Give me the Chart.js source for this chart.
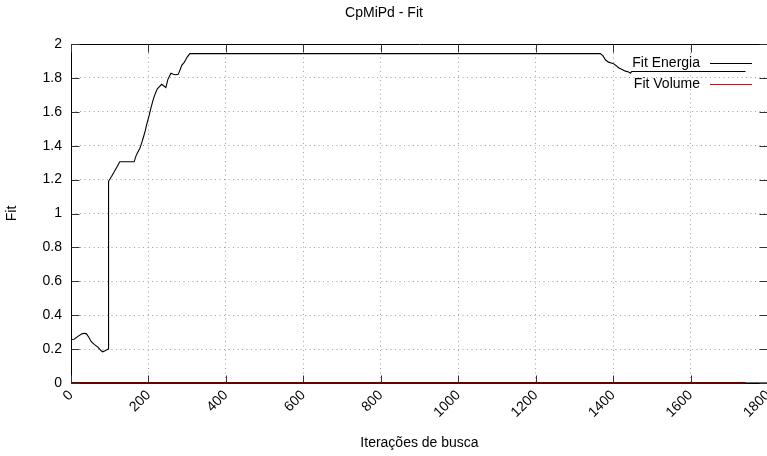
<!DOCTYPE html>
<html><head><meta charset="utf-8">
<script src="https://cdn.jsdelivr.net/npm/chart.js@4.4.0/dist/chart.umd.min.js"></script>
<style>html,body{margin:0;padding:0;overflow:hidden;background:#fff}canvas{display:block}</style>
</head><body>
<canvas id="c" width="830" height="456" style="width:830px;height:456px"></canvas>
<script>
const iterations = [0, 8, 18, 28, 34, 40, 46, 52, 60, 70, 78, 82, 88, 96, 97, 105, 115, 126, 163, 168, 172, 178, 183, 187, 192, 196, 202, 207, 213, 218, 223, 229, 234, 240, 245, 250, 258, 264, 269, 277, 282, 286, 292, 296, 300, 307, 1367, 1374, 1380, 1388, 1395, 1401, 1408, 1414, 1423, 1432, 1440, 1445, 1448, 1742];
const fitEnergia = [0.257, 0.258, 0.275, 0.29, 0.293, 0.29, 0.27, 0.245, 0.228, 0.21, 0.19, 0.184, 0.19, 0.2, 1.19, 1.22, 1.26, 1.305, 1.305, 1.34, 1.36, 1.385, 1.42, 1.45, 1.49, 1.53, 1.58, 1.628, 1.678, 1.71, 1.736, 1.75, 1.762, 1.752, 1.743, 1.79, 1.828, 1.822, 1.819, 1.821, 1.85, 1.874, 1.89, 1.905, 1.923, 1.943, 1.943, 1.93, 1.907, 1.893, 1.888, 1.884, 1.872, 1.86, 1.85, 1.84, 1.835, 1.828, 1.838, 1.838];
const volumeIterations = [0, 1742];
const fitVolume = [0, 0];
const xTicks = [0, 200, 400, 600, 800, 1000, 1200, 1400, 1600, 1800];
const yTicks = [0, 0.2, 0.4, 0.6, 0.8, 1, 1.2, 1.4, 1.6, 1.8, 2];

const FONT = '"Liberation Sans", Arial, Helvetica, sans-serif';
Chart.defaults.font.family = FONT;
Chart.defaults.font.size = 14;
Chart.defaults.color = '#000';

const framePlugin = {
  id: 'frame',
  beforeDatasetsDraw(chart) {
    const {ctx, chartArea: a} = chart;
    ctx.save();
    ctx.strokeStyle = '#000';
    ctx.lineWidth = 1;
    const L = Math.round(a.left) + 0.5, R = Math.round(a.right) - 0.5;
    const T = Math.round(a.top) + 0.5, B = Math.round(a.bottom) + 0.5;
    ctx.beginPath();
    ctx.rect(L, T, R - L, B - T);
    ctx.stroke();
    ctx.restore();
  },
  afterDatasetsDraw(chart) {
    const {ctx, chartArea: a, scales: {x, y}} = chart;
    ctx.save();
    const L = Math.round(a.left) + 0.5, R = Math.round(a.right) - 0.5;
    const T = Math.round(a.top) + 0.5, B = Math.round(a.bottom) + 0.5;
    // border in front of the plotted lines
    ctx.strokeStyle = 'rgba(0,0,0,0.6)';
    ctx.lineWidth = 2;
    ctx.beginPath();
    ctx.moveTo(L - 0.5, Math.round(a.bottom));
    ctx.lineTo(R + 0.5, Math.round(a.bottom));
    ctx.stroke();
    const tl = 8;
    ctx.strokeStyle = '#333';
    ctx.lineWidth = 1;
    ctx.beginPath();
    x.ticks.forEach(t => {
      const px = Math.round(x.getPixelForValue(t.value)) + 0.5;
      ctx.moveTo(px, B - 1); ctx.lineTo(px, B - tl);
      ctx.moveTo(px, T); ctx.lineTo(px, T + tl);
    });
    y.ticks.forEach(t => {
      const py = Math.round(y.getPixelForValue(t.value)) + 0.5;
      ctx.moveTo(L, py); ctx.lineTo(L + tl, py);
      ctx.moveTo(R, py); ctx.lineTo(R - tl, py);
    });
    ctx.stroke();
    ctx.restore();
  },
  afterDraw(chart) {
    const {ctx, chartArea: a} = chart;
    ctx.save();
    ctx.font = '14px ' + FONT;
    ctx.textAlign = 'right';
    ctx.textBaseline = 'middle';
    chart.data.datasets.forEach((ds, i) => {
      const yy = a.top + 18.5 + i * 21;
      ctx.fillStyle = '#000';
      ctx.fillText(ds.label, a.right - 68, yy + 0.5);
      ctx.strokeStyle = ds.borderColor;
      ctx.lineWidth = 1;
      ctx.beginPath();
      ctx.moveTo(a.right - 58, Math.round(yy) + 0.5);
      ctx.lineTo(a.right - 16, Math.round(yy) + 0.5);
      ctx.stroke();
    });
    ctx.restore();
  }
};

new Chart(document.getElementById('c'), {
  type: 'line',
  data: {
    datasets: [
      {
        label: 'Fit Energia',
        data: iterations.map((v, i) => ({x: v, y: fitEnergia[i]})),
        borderColor: '#000',
        borderWidth: 1.1,
        pointRadius: 0,
        tension: 0,
        clip: false
      },
      {
        label: 'Fit Volume',
        data: volumeIterations.map((v, i) => ({x: v, y: fitVolume[i]})),
        borderColor: '#ff0000',
        borderWidth: 2,
        pointRadius: 0,
        tension: 0,
        clip: false
      }
    ]
  },
  options: {
    responsive: false,
    devicePixelRatio: 1,
    animation: false,
    layout: {padding: {left: 0, right: 62, top: 0, bottom: 0}},
    plugins: {
      legend: {display: false},
      tooltip: {enabled: false},
      title: {
        display: true,
        text: 'CpMiPd - Fit',
        color: '#000',
        font: {size: 14, weight: 'normal'},
        padding: {top: 5, bottom: 22.2}
      }
    },
    scales: {
      x: {
        type: 'linear',
        min: 0, max: 1800,
        afterBuildTicks: s => { s.ticks = xTicks.map(v => ({value: v})); },
        afterFit: s => { s.height = 73; },
        ticks: {
          minRotation: 45, maxRotation: 45,
          padding: 4, labelOffset: 0,
          callback: v => String(v)
        },
        grid: {
          drawTicks: false,
          color: c => (c.tick && (c.tick.value === 0 || c.tick.value === 1800)) ? 'rgba(0,0,0,0)' : '#a0a0a0',
          lineWidth: 1
        },
        border: {display: false, dash: [1, 3.5]},
        title: {display: true, text: 'Iterações de busca', font: {size: 14}, padding: {top: 0, bottom: 4.6}}
      },
      y: {
        type: 'linear',
        min: 0, max: 2,
        afterBuildTicks: s => { s.ticks = yTicks.map(v => ({value: v})); },
        afterFit: s => { s.width = 71; },
        ticks: {
          padding: 9,
          callback: v => String(Number(v.toFixed(1)))
        },
        grid: {
          drawTicks: false,
          color: c => (c.tick && (c.tick.value === 0 || c.tick.value === 2)) ? 'rgba(0,0,0,0)' : '#a0a0a0',
          lineWidth: 1
        },
        border: {display: false, dash: [1, 3.5]},
        title: {display: true, text: 'Fit', font: {size: 14}, padding: {top: 4, bottom: 0}}
      }
    }
  },
  plugins: [framePlugin]
});
</script>
</body></html>
